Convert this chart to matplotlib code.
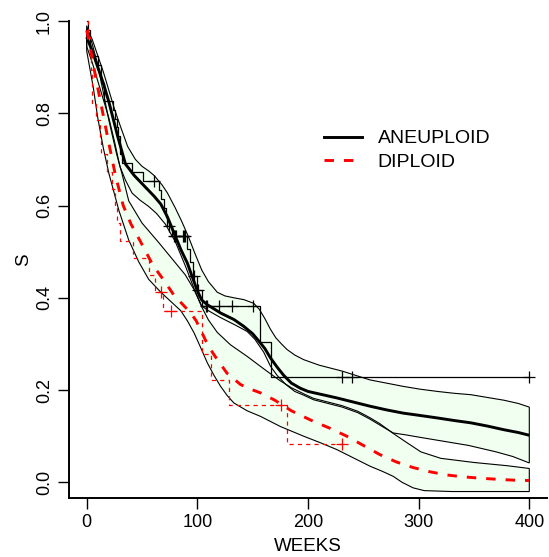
import matplotlib
matplotlib.use("Agg")
import matplotlib.pyplot as plt
from matplotlib.lines import Line2D

plt.rcParams['font.family'] = ['Liberation Sans', 'DejaVu Sans']
plt.rcParams['lines.scale_dashes'] = False

# ---------------- data ----------------
# Kaplan-Meier steps (weeks, survival)
ane_t = [0, 1, 3, 4, 10, 13, 16, 24, 26, 27, 28, 30, 32, 41, 51, 65, 67, 70, 72, 73, 77,
         91, 93, 96, 100, 104, 157, 167]
ane_s = [1.0, 0.9808, 0.9423, 0.9231, 0.9038, 0.8654, 0.8269, 0.8077, 0.7885, 0.7692, 0.75,
         0.7115, 0.6923, 0.6731, 0.6538, 0.6340, 0.6142, 0.5944, 0.5746, 0.5548, 0.5342,
         0.5061, 0.4780, 0.4481, 0.4161, 0.3814, 0.3051, 0.2289]
ane_end = 400

dip_t = [0, 1, 3, 4, 5, 8, 12, 13, 18, 23, 26, 27, 30, 42, 56, 62, 69, 104, 112, 129, 181]
dip_s = [1.0, 0.9643, 0.9286, 0.8929, 0.8214, 0.7857, 0.7483, 0.7109, 0.6735, 0.6361,
         0.5986, 0.5612, 0.5238, 0.4864, 0.4490, 0.4116, 0.3704, 0.2778, 0.2222, 0.1667, 0.0833]
dip_end = 231

# censoring marks (times without a death)
ane_cens_t = [61, 74, 79, 80, 81, 87, 88, 89, 97, 101, 108, 109, 120, 131, 150, 231, 240, 400]
ane_cens_s = [0.6538, 0.5548, 0.5342, 0.5342, 0.5342, 0.5342, 0.5342, 0.5342, 0.4481,
              0.4161, 0.3814, 0.3814, 0.3814, 0.3814, 0.3814, 0.2289, 0.2289, 0.2289]
dip_cens_t = [67, 76, 176, 231]
dip_cens_s = [0.4116, 0.3704, 0.1667, 0.0833]

# smooth estimate, ANEUPLOID
ane_mid_x = [0, 5, 10, 15, 20, 28, 35, 43, 53, 61, 67, 73, 79, 85, 91, 95, 100, 104, 109, 121,
             133, 142, 150, 156, 161, 166, 172, 178, 185, 193, 200, 213, 226, 241, 256, 271,
             286, 301, 317, 332, 347, 362, 377, 390, 400]
ane_mid_s = [0.965, 0.935, 0.90, 0.865, 0.825, 0.75, 0.69, 0.665, 0.64, 0.62, 0.603, 0.575,
             0.54, 0.505, 0.475, 0.448, 0.415, 0.395, 0.385, 0.367, 0.353, 0.338, 0.322, 0.305,
             0.29, 0.27, 0.25, 0.232, 0.215, 0.204, 0.197, 0.19, 0.183, 0.174, 0.165, 0.157,
             0.15, 0.145, 0.1395, 0.134, 0.129, 0.122, 0.114, 0.108, 0.102]
ane_up_x = [0, 5, 10, 15, 20, 25, 30, 37, 44, 50, 56, 61, 68, 73, 80, 86, 92, 98, 104, 110,
            118, 125, 133, 142, 151, 156, 161, 166, 171, 176, 181, 188, 196, 210, 231, 256,
            271, 286, 301, 317, 332, 347, 362, 377, 390, 400]
ane_up_s = [0.985, 0.96, 0.925, 0.89, 0.85, 0.81, 0.775, 0.728, 0.70, 0.685, 0.675, 0.665,
            0.645, 0.627, 0.595, 0.565, 0.532, 0.495, 0.46, 0.435, 0.412, 0.404, 0.40, 0.396,
            0.388, 0.375, 0.355, 0.332, 0.313, 0.30, 0.288, 0.276, 0.266, 0.254, 0.241, 0.222,
            0.215, 0.208, 0.202, 0.197, 0.193, 0.19, 0.184, 0.178, 0.171, 0.163]
ane_lo_x = [0, 5, 10, 15, 20, 25, 30, 35, 41, 48, 56, 63, 71, 80, 89, 97, 104, 110, 121, 135,
            145, 152, 160, 166, 172, 180, 188, 196, 205, 218, 231, 245, 256, 265, 277, 288,
            300, 320, 345, 370, 385, 400]
ane_lo_s = [0.945, 0.91, 0.87, 0.83, 0.79, 0.74, 0.685, 0.655, 0.627, 0.612, 0.598, 0.583,
            0.56, 0.522, 0.47, 0.42, 0.382, 0.372, 0.357, 0.34, 0.327, 0.31, 0.282, 0.252,
            0.232, 0.212, 0.197, 0.189, 0.179, 0.171, 0.163, 0.151, 0.137, 0.124, 0.107,
            0.103, 0.098, 0.09, 0.08, 0.066, 0.056, 0.042]

# smooth estimate, DIPLOID
dip_mid_x = [0, 3, 6, 10, 15, 20, 26, 33, 40, 49, 60, 70, 79, 87, 94, 99, 103, 110, 118, 127,
             139, 148, 157, 170, 185, 205, 220, 235, 250, 265, 280, 295, 310, 325, 340, 355,
             375, 392, 400]
dip_mid_s = [0.98, 0.945, 0.905, 0.855, 0.795, 0.735, 0.665, 0.60, 0.56, 0.52, 0.47, 0.437,
             0.405, 0.385, 0.367, 0.35, 0.33, 0.295, 0.266, 0.236, 0.212, 0.202, 0.194, 0.178,
             0.155, 0.132, 0.117, 0.10, 0.08, 0.06, 0.044, 0.032, 0.023, 0.016, 0.012, 0.009,
             0.006, 0.004, 0.004]
dip_up_x = [0, 5, 10, 15, 20, 27, 32, 38, 50, 65, 77, 89, 97, 104, 110, 118, 130, 145, 160,
            168, 175, 185, 196, 205, 218, 231, 245, 256, 265, 277, 290, 302, 320, 350, 380, 400]
dip_up_s = [0.99, 0.95, 0.905, 0.845, 0.785, 0.712, 0.668, 0.61, 0.562, 0.52, 0.485, 0.45,
            0.418, 0.38, 0.352, 0.325, 0.298, 0.273, 0.246, 0.232, 0.22, 0.205, 0.192, 0.182,
            0.174, 0.166, 0.154, 0.140, 0.127, 0.106, 0.085, 0.066, 0.052, 0.043, 0.036, 0.03]
dip_lo_x = [0, 3, 6, 10, 15, 20, 29, 38, 47, 56, 67, 76, 85, 91, 97, 103, 109, 115, 121, 127,
            133, 145, 157, 175, 196, 211, 226, 241, 256, 267, 277, 285, 295, 305, 330, 360, 400]
dip_lo_s = [0.935, 0.895, 0.855, 0.79, 0.725, 0.67, 0.59, 0.525, 0.478, 0.44, 0.412, 0.392,
            0.372, 0.35, 0.324, 0.292, 0.259, 0.232, 0.208, 0.188, 0.172, 0.155, 0.143, 0.121,
            0.10, 0.086, 0.071, 0.053, 0.035, 0.024, 0.013, 0.0, -0.012, -0.018, -0.02, -0.02,
            -0.02]

x_ticks = [0, 100, 200, 300, 400]
y_ticks = [0.0, 0.2, 0.4, 0.6, 0.8, 1.0]
y_ticklabels = ["0.0", "0.2", "0.4", "0.6", "0.8", "1.0"]
legend_labels = ["ANEUPLOID", "DIPLOID"]

# ---------------- figure ----------------
fig = plt.figure(figsize=(5.49, 5.57), dpi=100)
ax = fig.add_axes([69 / 549, 1 - 498 / 557, (547 - 69) / 549, (498 - 21) / 557])
ax.set_xlim(-16, 416)
ax.set_ylim(-0.034, 1.0)

band_col = '#F0FFF0'
red = '#FF0000'

# band fills
ax.fill(ane_up_x + ane_lo_x[::-1], ane_up_s + ane_lo_s[::-1], facecolor=band_col,
        edgecolor='none', zorder=1)
ax.fill(dip_up_x + dip_lo_x[::-1], dip_up_s + dip_lo_s[::-1], facecolor=band_col,
        edgecolor='none', zorder=1)
# band outlines
ax.fill(ane_up_x + ane_lo_x[::-1], ane_up_s + ane_lo_s[::-1], facecolor='none',
        edgecolor='black', lw=0.8, zorder=2)
ax.fill(dip_up_x + dip_lo_x[::-1], dip_up_s + dip_lo_s[::-1], facecolor='none',
        edgecolor='black', lw=0.8, zorder=2)

# KM steps
ax.step(ane_t + [ane_end], ane_s + [ane_s[-1]], where='post', color='black', lw=0.9,
        zorder=3, clip_on=False)
ax.step(dip_t + [dip_end], dip_s + [dip_s[-1]], where='post', color=red, lw=0.9,
        linestyle=(0, (3.0, 3.0)), zorder=3, clip_on=False)
ax.plot(ane_cens_t, ane_cens_s, linestyle='none', marker='+', markersize=9, mew=0.9,
        color='black', zorder=4, clip_on=False)
ax.plot(dip_cens_t, dip_cens_s, linestyle='none', marker='+', markersize=9, mew=0.9,
        color=red, zorder=4, clip_on=False)

# smooth centre curves
ax.plot(ane_mid_x, ane_mid_s, color='black', lw=2.1, zorder=5, solid_capstyle='butt')
ax.plot(dip_mid_x, dip_mid_s, color=red, lw=2.1, linestyle=(0, (6.8, 7.2)), zorder=5)

# axes styling
for side in ('top', 'right'):
    ax.spines[side].set_visible(False)
for side in ('left', 'bottom'):
    ax.spines[side].set_linewidth(1.4)
ax.set_xticks(x_ticks)
ax.set_yticks(y_ticks)
ax.set_yticklabels(y_ticklabels)
ax.tick_params(direction='out', length=8, width=1.0, labelsize=13, pad=3.5)
ax.tick_params(axis='y', labelrotation=90)
for lab in ax.get_yticklabels():
    lab.set_va('center')
ax.set_xlabel('WEEKS', fontsize=13.5, labelpad=5)
ax.set_ylabel('S', fontsize=13.5, labelpad=3)

handles = [Line2D([0], [0], color='black', lw=2.1),
           Line2D([0], [0], color=red, lw=2.1, linestyle=(0, (6.8, 7.2)))]
ax.legend(handles, legend_labels, loc='upper left', bbox_to_anchor=(0.5335, 0.772),
          frameon=False, fontsize=14, handlelength=1.95, handletextpad=0.8,
          borderpad=0, borderaxespad=0, labelspacing=0.3)

fig.savefig('out.png', dpi=100)
